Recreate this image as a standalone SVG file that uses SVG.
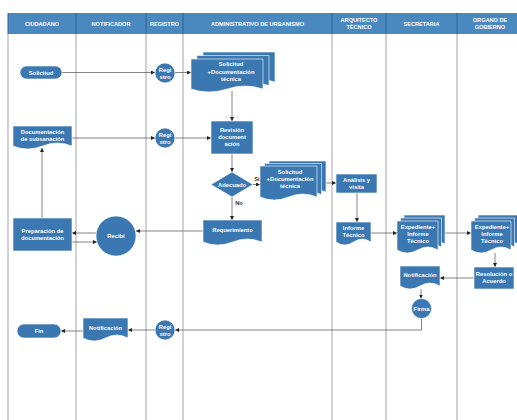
<svg xmlns="http://www.w3.org/2000/svg" width="517" height="420" viewBox="0 0 517 420">
<style>
.hdr{fill:#4a88c0}
.hdiv{stroke:#2f6696;stroke-width:1}
.lane{stroke:#b4b4b4;stroke-width:1.2;fill:none}
.ht{fill:#fff;font-family:"Liberation Sans",Arial,sans-serif;font-size:5.6px;font-weight:bold;text-anchor:middle}
.n{fill:#3b78b1;stroke:#fff;stroke-width:0.6}
.t{fill:#fff;font-family:"Liberation Sans",Arial,sans-serif;font-size:5.8px;font-weight:bold;text-anchor:middle}
.lbl{fill:#333;font-family:"Liberation Sans",Arial,sans-serif;font-size:5.8px;font-weight:bold;text-anchor:middle}
.c{fill:none;stroke:#666;stroke-width:0.8;marker-end:url(#ah)}
</style>
<defs>
<marker id="ah" viewBox="0 0 6 6" refX="6" refY="3" markerWidth="4" markerHeight="4" orient="auto" markerUnits="userSpaceOnUse">
<path d="M0 0 L6 3 L0 6 z" fill="#222"/>
</marker>
</defs>
<rect x="0" y="0" width="517" height="420" fill="#fff"/>
<g id="lanes">
<rect class="hdr" x="8" y="13" width="509" height="21"/>
<path class="lane" d="M8 34 V420 M76 34 V420 M146 34 V420 M183 34 V420 M332 34 V420 M386 34 V420 M457 34 V420"/>
<path class="hdiv" d="M8 13 V34 M76 13 V34 M146 13 V34 M183 13 V34 M332 13 V34 M386 13 V34 M457 13 V34"/>
<text class="ht" x="42" y="25.5">CIUDADANO</text>
<text class="ht" x="111" y="25.5">NOTIFICADOR</text>
<text class="ht" x="164.5" y="25.5">REGISTRO</text>
<text class="ht" x="257.5" y="25.5">ADMINISTRATIVO DE URBANISMO</text>
<text class="ht" x="359" y="22">ARQUITECTO</text>
<text class="ht" x="359" y="29">TÉCNICO</text>
<text class="ht" x="421.5" y="25.5">SECRETARIA</text>
<text class="ht" x="490" y="22">ORGANO DE</text>
<text class="ht" x="490" y="29">GOBIERNO</text>
</g>
<g id="connectors">
<path class="c" d="M62 72.5 H155"/>
<path class="c" d="M175 72.5 H191"/>
<path class="c" d="M232 91 V121"/>
<path class="c" d="M72 138 H155"/>
<path class="c" d="M175 138 H211"/>
<path class="c" d="M232 154 V172"/>
<path class="c" d="M253 184.5 H260"/>
<path class="c" d="M317 183 H336"/>
<path class="c" d="M232 197 V220"/>
<path class="c" d="M203 231 H136"/>
<path class="c" d="M96 233 H72"/>
<path class="c" d="M72 242 H97"/>
<path class="c" d="M42 218 V148"/>
<path class="c" d="M357 193 V222"/>
<path class="c" d="M371 233 H397"/>
<path class="c" d="M438 233 H471"/>
<path class="c" d="M495 253 V267"/>
<path class="c" d="M474 278 H440"/>
<path class="c" d="M421 289 V298.5"/>
<path class="c" d="M421.5 318.5 V330 H175"/>
<path class="c" d="M155 330 H128"/>
<path class="c" d="M83 331 H61"/>
<text class="lbl" x="257" y="181">Si</text>
<text class="lbl" x="239" y="205">No</text>
</g>
<g id="solicitud">
<rect class="n" x="20" y="66" width="42" height="13" rx="6.5"/>
<text class="t" x="41" y="74.5">Solicitud</text>
</g>
<g id="registro1">
<circle class="n" cx="165" cy="73" r="10"/>
<text class="t" x="165" y="71.5">Regi</text>
<text class="t" x="165" y="78.5">stro</text>
</g>
<g id="docs1">
<path class="n" d="M203 52 h72 v30 q-18 -6 -36 0 t-36 0 z"/>
<path class="n" d="M197 55.5 h72 v30 q-18 -6 -36 0 t-36 0 z"/>
<path class="n" d="M191 59 h72 v30 q-18 -6 -36 0 t-36 0 z"/>
<text class="t" x="231" y="66">Solicitud</text>
<text class="t" x="231" y="74">+Documentación</text>
<text class="t" x="231" y="81">técnica</text>
</g>
<g id="subsanacion">
<path class="n" d="M13 126 h59 v20 q-14.75 -6 -29.5 0 t-29.5 0 z"/>
<text class="t" x="42.5" y="134">Documentación</text>
<text class="t" x="42.5" y="141">de subsanación</text>
</g>
<g id="registro2">
<circle class="n" cx="165" cy="138" r="10"/>
<text class="t" x="165" y="136.5">Regi</text>
<text class="t" x="165" y="143.5">stro</text>
</g>
<g id="revision">
<rect class="n" x="211" y="121" width="42" height="33"/>
<text class="t" x="232" y="132">Revisión</text>
<text class="t" x="232" y="139">document</text>
<text class="t" x="232" y="146">ación</text>
</g>
<g id="adecuado">
<polygon class="n" points="211,184.5 232,172 253,184.5 232,197"/>
<text class="t" x="232" y="186.5">Adecuado</text>
</g>
<g id="docs2">
<path class="n" d="M269 161 h57 v31 q-14.25 -6 -28.5 0 t-28.5 0 z"/>
<path class="n" d="M264.5 163.5 h57 v31 q-14.25 -6 -28.5 0 t-28.5 0 z"/>
<path class="n" d="M260 166 h57 v31 q-14.25 -6 -28.5 0 t-28.5 0 z"/>
<text class="t" x="290" y="174">Solicitud</text>
<text class="t" x="290" y="181">+Documentación</text>
<text class="t" x="290" y="188">técnica</text>
</g>
<g id="analisis">
<rect class="n" x="336" y="174" width="41" height="19"/>
<text class="t" x="356.5" y="182">Análisis y</text>
<text class="t" x="356.5" y="189">visita</text>
</g>
<g id="requerimiento">
<path class="n" d="M203 220 h59 v22 q-14.75 -6 -29.5 0 t-29.5 0 z"/>
<text class="t" x="232.5" y="232">Requerimiento</text>
</g>
<g id="recibi">
<circle class="n" cx="116" cy="236" r="20"/>
<text class="t" x="116" y="238">Recibí</text>
</g>
<g id="preparacion">
<rect class="n" x="13" y="218" width="59" height="33"/>
<text class="t" x="42.5" y="233">Preparación de</text>
<text class="t" x="42.5" y="240">documentación</text>
</g>
<g id="informe">
<path class="n" d="M336 222 h35 v20 q-8.75 -6 -17.5 0 t-17.5 0 z"/>
<text class="t" x="353.5" y="230">Informe</text>
<text class="t" x="353.5" y="237">Técnico</text>
</g>
<g id="expediente1">
<path class="n" d="M404 215 h41 v29 q-10.25 -6 -20.5 0 t-20.5 0 z"/>
<path class="n" d="M400.5 218 h41 v29 q-10.25 -6 -20.5 0 t-20.5 0 z"/>
<path class="n" d="M397 221 h41 v29 q-10.25 -6 -20.5 0 t-20.5 0 z"/>
<text class="t" x="418" y="229">Expediente+</text>
<text class="t" x="418" y="236">Informe</text>
<text class="t" x="418" y="243">Técnico</text>
</g>
<g id="expediente2">
<path class="n" d="M478 215 h40 v29 q-10 -6 -20 0 t-20 0 z"/>
<path class="n" d="M474.5 218 h40 v29 q-10 -6 -20 0 t-20 0 z"/>
<path class="n" d="M471 221 h40 v29 q-10 -6 -20 0 t-20 0 z"/>
<text class="t" x="492" y="229">Expediente+</text>
<text class="t" x="492" y="236">Informe</text>
<text class="t" x="492" y="243">Técnico</text>
</g>
<g id="resolucion">
<rect class="n" x="474" y="267" width="40" height="22"/>
<text class="t" x="494" y="276">Resolución o</text>
<text class="t" x="494" y="283">Acuerdo</text>
</g>
<g id="notificacion-secretaria">
<path class="n" d="M400 266 h40 v20 q-10 -6 -20 0 t-20 0 z"/>
<text class="t" x="420" y="277">Notificación</text>
</g>
<g id="firma">
<circle class="n" cx="421.5" cy="308.5" r="10"/>
<text class="t" x="421.5" y="310.5">Firma</text>
</g>
<g id="registro3">
<circle class="n" cx="165" cy="330" r="10"/>
<text class="t" x="165" y="328.5">Regi</text>
<text class="t" x="165" y="335.5">stro</text>
</g>
<g id="notificacion">
<path class="n" d="M83 318 h45 v20 q-11.25 -6 -22.5 0 t-22.5 0 z"/>
<text class="t" x="105.5" y="330">Notificación</text>
</g>
<g id="fin">
<rect class="n" x="17" y="324" width="44" height="14" rx="7"/>
<text class="t" x="39" y="333">Fin</text>
</g>
</svg>
